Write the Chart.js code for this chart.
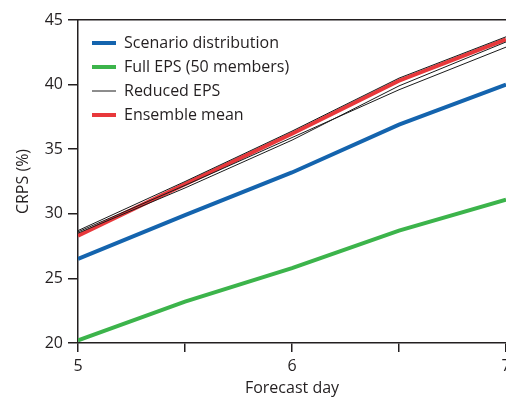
<!DOCTYPE html>
<html>
<head>
<meta charset="utf-8">
<script src="https://cdn.jsdelivr.net/npm/chart.js@4/dist/chart.umd.min.js"></script>
<style>
  html, body { margin: 0; padding: 0; overflow: hidden; background: #fff; }
  #wrap { position: relative; width: 530px; height: 399px; }
</style>
</head>
<body>
<div id="wrap"><canvas id="crpsChart"></canvas></div>
<script>
const days = [5, 5.5, 6, 6.5, 7];
const scenarioDist = [26.5, 29.9, 33.2, 36.9, 40.0];
const fullEps = [20.2, 23.2, 25.8, 28.7, 31.1];
const reducedEpsA = [28.7, 32.5, 36.4, 40.5, 43.7];
const reducedEpsB = [28.5, 32.0, 35.7, 39.9, 43.3];
const reducedEpsC = [28.6, 32.2, 35.9, 39.6, 42.9];
const ensembleMean = [28.3, 32.3, 36.2, 40.3, 43.5];
const yTicks = [20, 25, 30, 35, 40, 45];

const AXIS_COLOUR = "#231f20";
const FONT = "'Open Sans', 'Noto Sans', sans-serif";

function toPoints(values) {
  return values.map((v, i) => ({ x: days[i], y: v }));
}

function lineSet(label, values, colour, width, hideInLegend) {
  return {
    label: label,
    data: toPoints(values),
    borderColor: colour,
    backgroundColor: colour,
    borderWidth: width,
    pointRadius: 0,
    tension: 0,
    hideInLegend: !!hideInLegend,
  };
}

// nudge the in-plot legend to where the original sits
const legendOffset = {
  id: "legendOffset",
  beforeDraw(chart) {
    if (chart.legend) {
      chart.legend.left = chart.chartArea.left + 6;
      chart.legend.top = chart.chartArea.top + 7;
    }
  },
};

new Chart(document.getElementById("crpsChart"), {
  type: "line",
  data: {
    datasets: [
      lineSet("Scenario distribution", scenarioDist, "#1464ae", 4),
      lineSet("Full EPS (50 members)", fullEps, "#3cb44b", 4),
      lineSet("Reduced EPS", reducedEpsA, "#1a1a1a", 1),
      lineSet("Reduced EPS", reducedEpsB, "#1a1a1a", 1, true),
      lineSet("Reduced EPS", reducedEpsC, "#1a1a1a", 1, true),
      lineSet("Ensemble mean", ensembleMean, "#e8383b", 4),
    ],
  },
  options: {
    animation: false,
    responsive: true,
    maintainAspectRatio: false,
    events: [],
    layout: { padding: { left: 0, top: 20, right: 24, bottom: 0 } },
    plugins: {
      tooltip: { enabled: false },
      legend: {
        position: "chartArea",
        align: "start",
        labels: {
          usePointStyle: true,
          pointStyle: "line",
          pointStyleWidth: 24,
          padding: 8,
          color: AXIS_COLOUR,
          font: { family: FONT, size: 16 },
          filter: (item, data) => !data.datasets[item.datasetIndex].hideInLegend,
        },
      },
    },
    scales: {
      x: {
        type: "linear",
        min: 5,
        max: 7,
        afterFit: (scale) => { scale.height = 56; },
        grid: {
          drawOnChartArea: false,
          drawTicks: true,
          tickLength: 9,
          color: AXIS_COLOUR,
          lineWidth: 1.5,
        },
        border: { display: true, color: AXIS_COLOUR, width: 1.5 },
        ticks: {
          stepSize: 0.5,
          padding: 5,
          color: AXIS_COLOUR,
          font: { family: FONT, size: 16 },
          callback: (v) => (Number.isInteger(v) ? String(v) : ""),
        },
        title: {
          display: true,
          text: "Forecast day",
          color: AXIS_COLOUR,
          font: { family: FONT, size: 16 },
          padding: { top: 0, bottom: 1 },
        },
      },
      xTop: {
        type: "linear",
        position: "top",
        min: 5,
        max: 7,
        afterFit: (scale) => { scale.height = 0; },
        grid: { display: false, drawTicks: false },
        ticks: { display: false },
        border: { display: true, color: AXIS_COLOUR, width: 1.5 },
      },
      y: {
        min: 20,
        max: 45,
        afterFit: (scale) => { scale.width = 78; },
        afterBuildTicks: (scale) => { scale.ticks = yTicks.map((v) => ({ value: v })); },
        grid: {
          drawOnChartArea: false,
          drawTicks: true,
          tickLength: 10,
          color: AXIS_COLOUR,
          lineWidth: 1.5,
        },
        border: { display: true, color: AXIS_COLOUR, width: 1.5 },
        ticks: {
          padding: 5,
          color: AXIS_COLOUR,
          font: { family: FONT, size: 16 },
        },
        title: {
          display: true,
          text: "CRPS (%)",
          color: AXIS_COLOUR,
          font: { family: FONT, size: 16 },
          padding: { top: 14, bottom: 0 },
        },
      },
    },
  },
  plugins: [legendOffset],
});
</script>
</body>
</html>
